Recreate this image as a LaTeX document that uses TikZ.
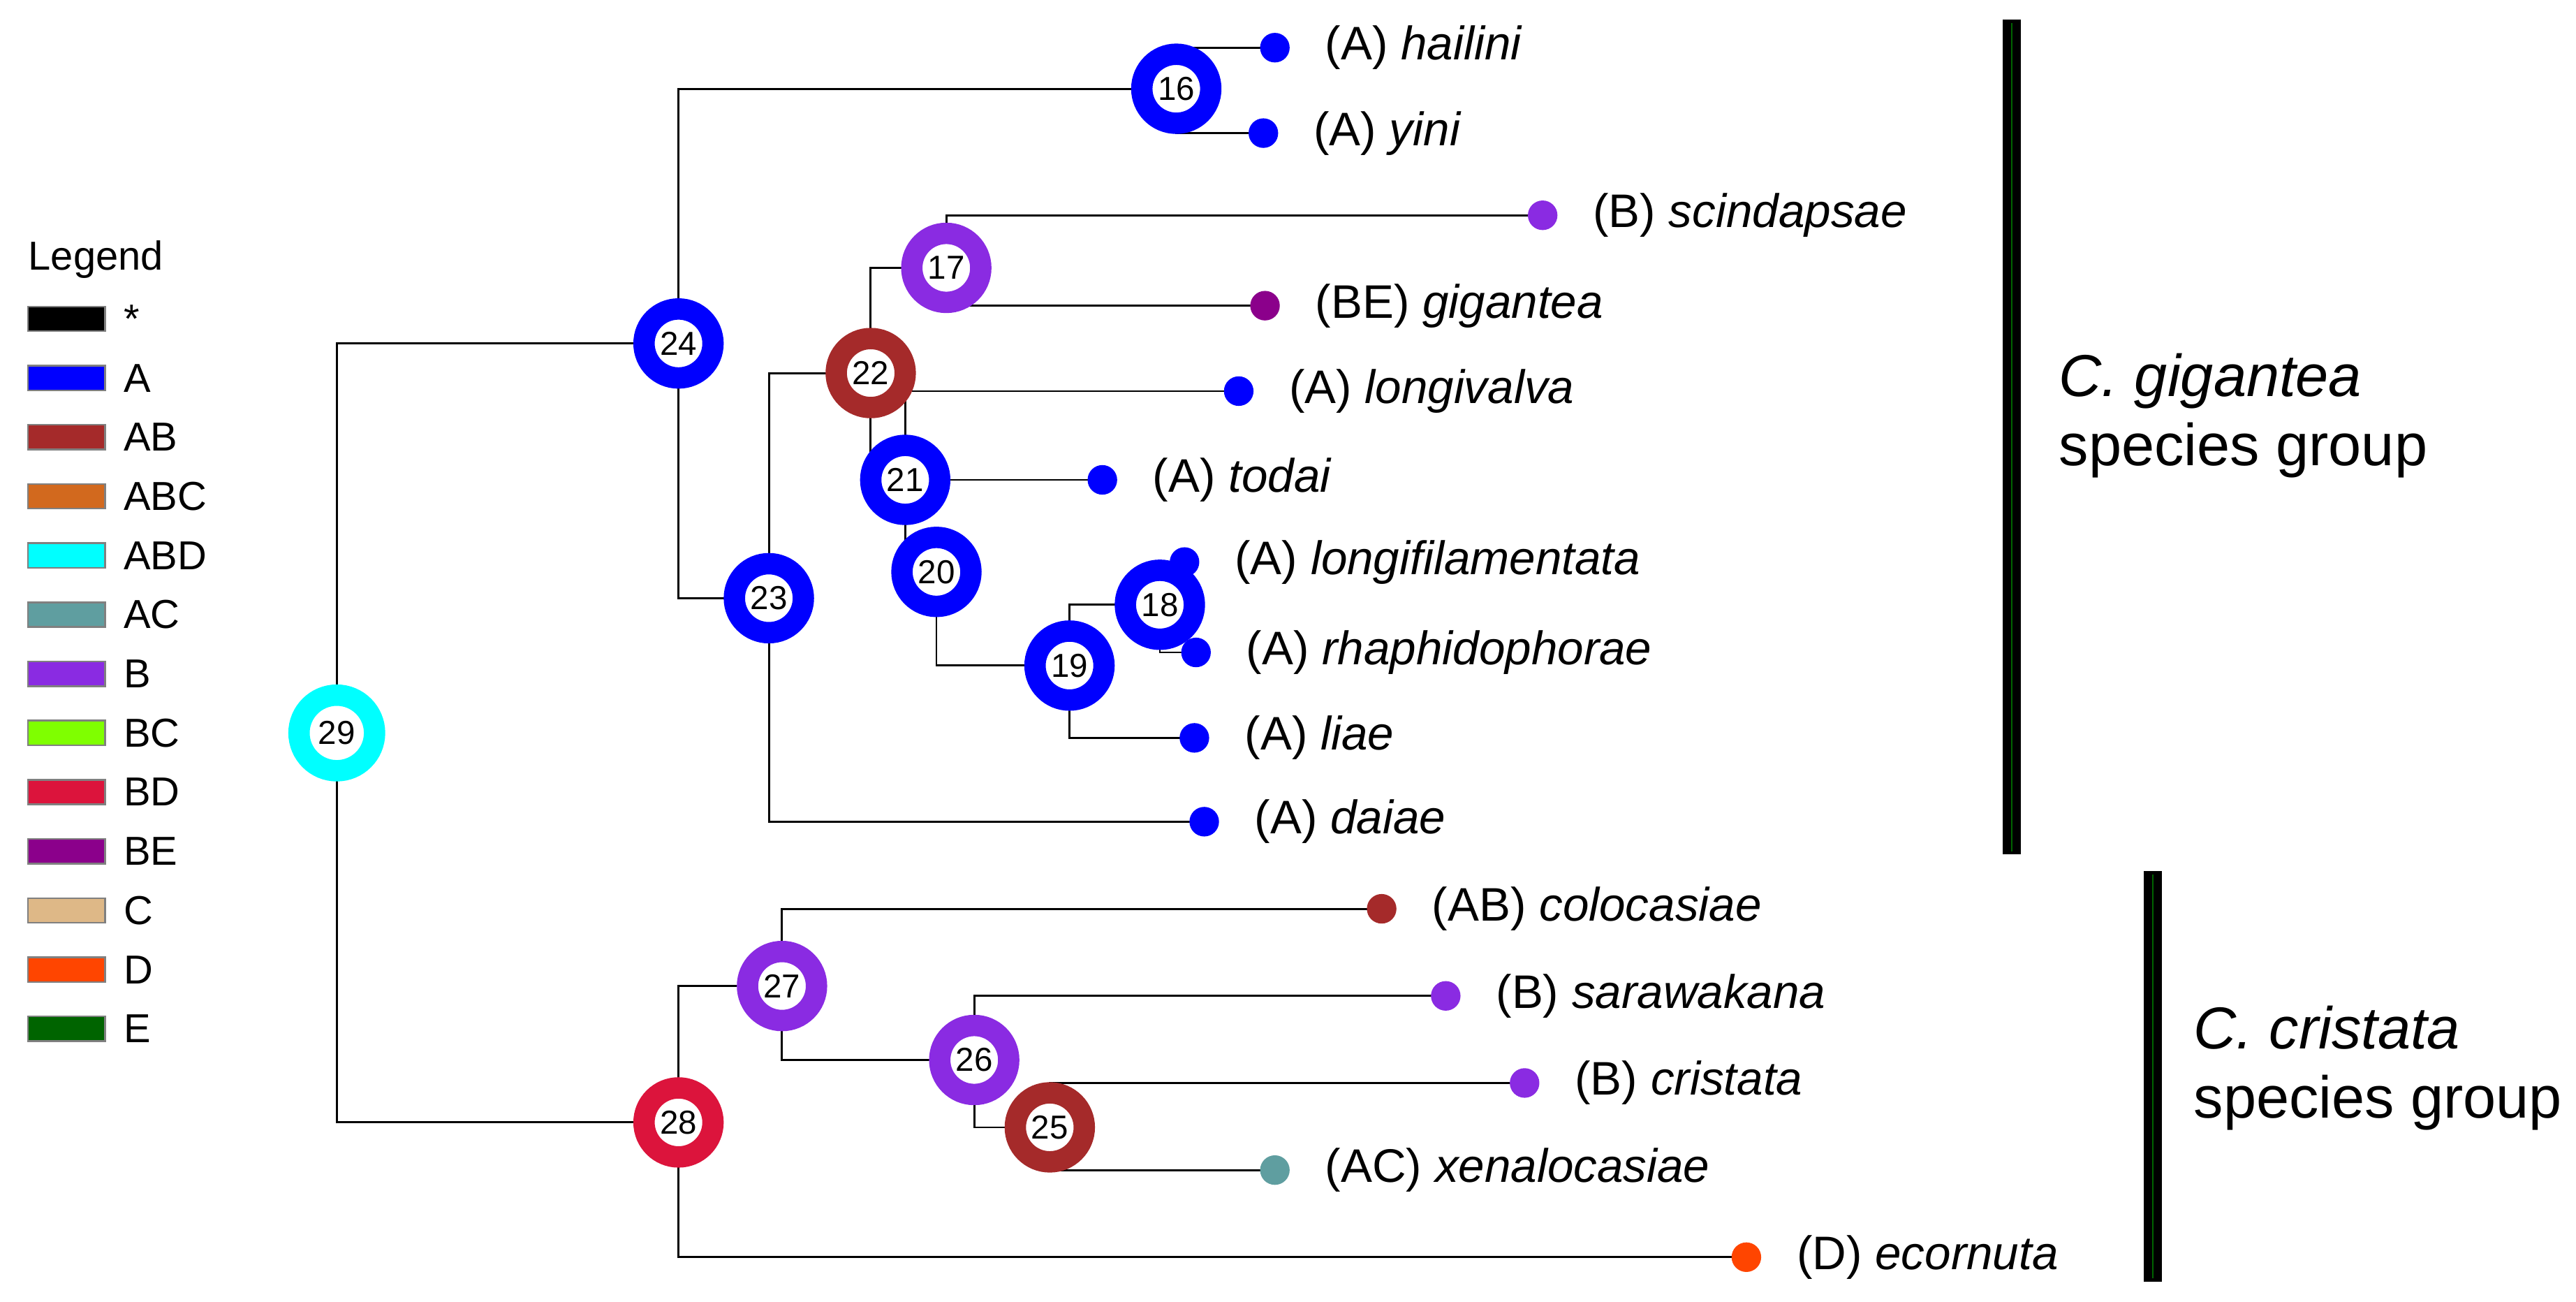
\documentclass[tikz,border=0pt]{standalone}
\usepackage{fontspec}
\setmainfont{Liberation Sans}
\begin{document}
\definecolor{cA}{RGB}{0,0,255}
\definecolor{cAB}{RGB}{165,42,42}
\definecolor{cABC}{RGB}{210,105,30}
\definecolor{cABD}{RGB}{0,255,255}
\definecolor{cAC}{RGB}{95,158,160}
\definecolor{cB}{RGB}{138,43,226}
\definecolor{cBC}{RGB}{127,255,0}
\definecolor{cBD}{RGB}{220,20,60}
\definecolor{cBE}{RGB}{139,0,139}
\definecolor{cC}{RGB}{222,184,135}
\definecolor{cD}{RGB}{255,69,0}
\definecolor{cE}{RGB}{0,100,0}
\pgfdeclarelayer{bg}\pgfsetlayers{bg,main}
\begin{tikzpicture}[x=0.02cm,y=-0.02cm,
  ring/.style={circle,draw=#1,line width=0.26cm,fill=white,minimum size=0.84cm,inner sep=0pt,font=\fontsize{11.5}{11.5}\selectfont},
  leaf/.style={circle,fill=#1,minimum size=0.36cm,inner sep=0pt},
  lab/.style={font=\fontsize{16.3}{16.3}\selectfont,inner sep=0pt,label distance=0.42cm},
  edge/.style={line width=0.7pt},
  lbar/.style={draw=gray,line width=0.6pt,fill=#1,minimum width=0.94cm,minimum height=0.3cm,inner sep=0pt},
  ltext/.style={font=\fontsize{14}{14}\selectfont,anchor=west,inner sep=0pt},
  grp/.style={font=\fontsize{20.5}{24}\selectfont,align=left,anchor=west,inner sep=0pt}]
\useasboundingbox (0,0) rectangle (1568,792);
% legend
\node[ltext] (legt) at (17,158) {Legend};
\foreach \c/\t [count=\i] in {black/*,cA/A,cAB/AB,cABC/ABC,cABD/ABD,cAC/AC,cB/B,cBC/BC,cBD/BD,cBE/BE,cC/C,cD/D,cE/E}{
  \node[lbar=\c] (lb\i) at (40.5,{194+36*(\i-1)}) {};
  \node[ltext] (lt\i) at (75,{194+36*(\i-1)}) {\t};
}
% internal nodes
\node[ring=cABD,minimum width=0.92cm] (n29) at (205,446) {29};
\node[ring=cA] (n24) at (413,209) {24};
\node[ring=cA] (n23) at (468,364) {23};
\node[ring=cBD] (n28) at (413,683) {28};
\node[ring=cB] (n27) at (476,600) {27};
\node[ring=cB] (n26) at (593,645) {26};
\node[ring=cAB] (n25) at (639,686) {25};
\node[ring=cAB] (n22) at (530,227) {22};
\node[ring=cB] (n17) at (576,163) {17};
\node[ring=cA] (n21) at (551,292) {21};
\node[ring=cA] (n20) at (570,348) {20};
\node[ring=cA] (n19) at (651,405) {19};
\node[ring=cA] (n18) at (706,368) {18};
\node[ring=cA] (n16) at (716,54) {16};
% leaves
\newcommand{\lf}[5]{\node[leaf=#4,label={[lab]right:(#5) \textit{#3}}] (#1) at (#2) {};}
\lf{hailini}{776,29}{hailini}{cA}{A}
\lf{yini}{769,81}{yini}{cA}{A}
\lf{scindapsae}{939,131}{scindapsae}{cB}{B}
\lf{gigantea}{770,186}{gigantea}{cBE}{BE}
\lf{longivalva}{754,238}{longivalva}{cA}{A}
\lf{todai}{671,292}{todai}{cA}{A}
\lf{longifil}{721,342}{longifilamentata}{cA}{A}
\lf{rhaph}{728,397}{rhaphidophorae}{cA}{A}
\lf{liae}{727,449}{liae}{cA}{A}
\lf{daiae}{733,500}{daiae}{cA}{A}
\lf{colocasiae}{841,553}{colocasiae}{cAB}{AB}
\lf{sarawakana}{880,606}{sarawakana}{cB}{B}
\lf{cristata}{928,659}{cristata}{cB}{B}
\lf{xenalocasiae}{776,712}{xenalocasiae}{cAC}{AC}
\lf{ecornuta}{1063,765}{ecornuta}{cD}{D}
\begin{pgfonlayer}{bg}
\draw[edge] (n29.center) |- (n24.center);
\draw[edge] (n29.center) |- (n28.center);
\draw[edge] (n24.center) |- (n16.center);
\draw[edge] (n24.center) |- (n23.center);
\draw[edge] (n16.center) |- (hailini.center);
\draw[edge] (n16.center) |- (yini.center);
\draw[edge] (n23.center) |- (n22.center);
\draw[edge] (n23.center) |- (daiae.center);
\draw[edge] (n22.center) |- (n17.center);
\draw[edge] (n22.center) |- (n21.center);
\draw[edge] (n17.center) |- (scindapsae.center);
\draw[edge] (n17.center) |- (gigantea.center);
\draw[edge] (n21.center) |- (longivalva.center);
\draw[edge] (n21.center) -- (todai.center);
\draw[edge] (n21.center) |- (n20.center);
\draw[edge] (n20.center) |- (n19.center);
\draw[edge] (n19.center) |- (n18.center);
\draw[edge] (n19.center) |- (liae.center);
\draw[edge] (n18.center) |- (longifil.center);
\draw[edge] (n18.center) |- (rhaph.center);
\draw[edge] (n28.center) |- (n27.center);
\draw[edge] (n28.center) |- (ecornuta.center);
\draw[edge] (n27.center) |- (colocasiae.center);
\draw[edge] (n27.center) |- (n26.center);
\draw[edge] (n26.center) |- (sarawakana.center);
\draw[edge] (n26.center) |- (n25.center);
\draw[edge] (n25.center) |- (cristata.center);
\draw[edge] (n25.center) |- (xenalocasiae.center);
\end{pgfonlayer}
% group bars
\fill[black] (1219,12) rectangle (1230,520);
\draw[cE,line width=0.6pt] (1224.5,14) -- (1224.5,518);
\fill[black] (1305,530) rectangle (1316,780);
\draw[cE,line width=0.6pt] (1310.5,532) -- (1310.5,778);
\node[grp] (g1) at (1253,253) {\textit{C. gigantea}\\species group};
\node[grp] (g2) at (1335,650) {\textit{C. cristata}\\species group};
\end{tikzpicture}
\end{document}
